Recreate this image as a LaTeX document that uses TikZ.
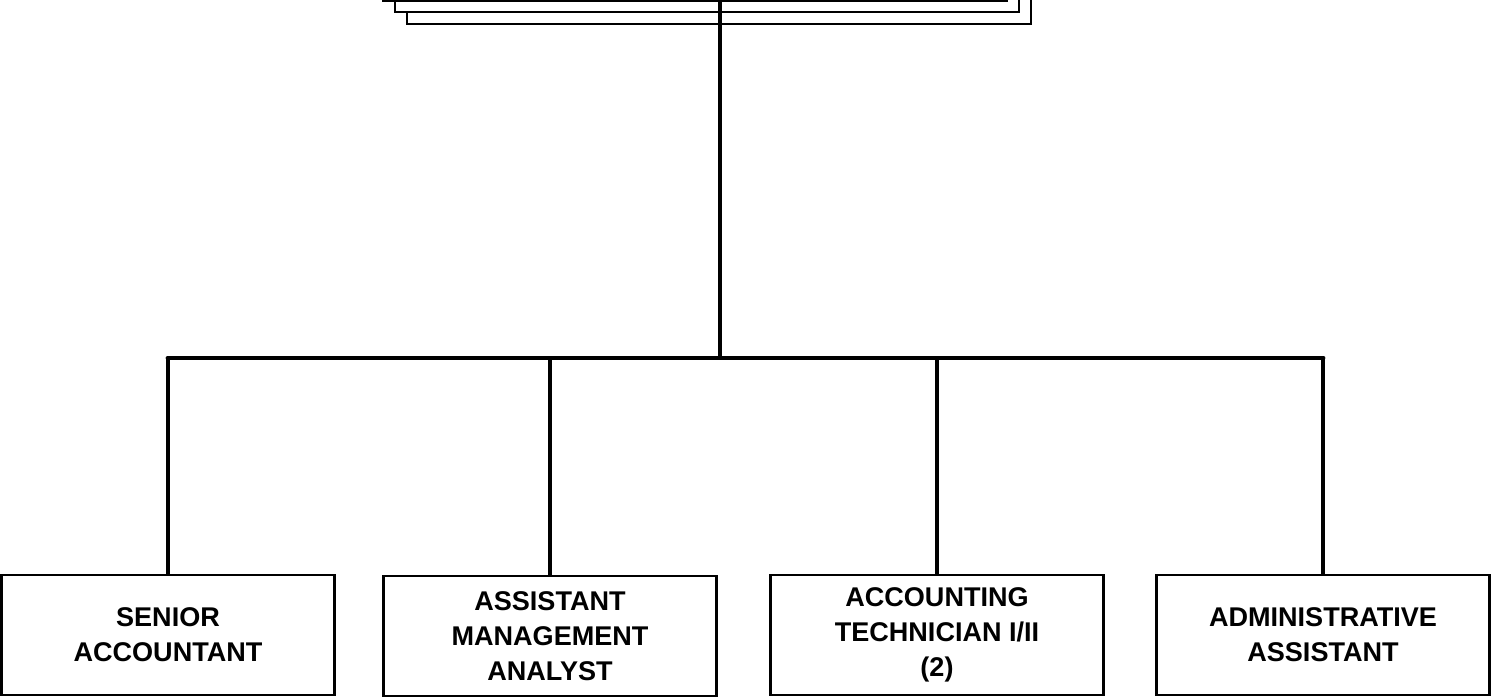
\documentclass[tikz,border=0pt]{standalone}
\usepackage{fontspec}
\setmainfont{Liberation Sans}
\usepackage{tikz}
\usetikzlibrary{positioning}

\tikzset{
  post/.style={draw, line width=1.2pt, fill=white, align=center,
    minimum width=6.66cm, minimum height=2.4cm, inner sep=0pt,
    font=\fontsize{15.4}{19.8}\selectfont\bfseries},
  head/.style={draw, line width=1.2pt, fill=white,
    minimum width=12.48cm, minimum height=1.6cm, inner sep=0pt},
  trunk/.style={line width=2.8pt}
}

\begin{document}
\begin{tikzpicture}[x=0.02cm, y=-0.02cm]

\clip (0, 0) rectangle (1493, 698);

% stacked heading boxes, cut off by the top edge
\node[head] (head3) at (719, -16) {};
\node[head] (head2) at (707, -28) {};
\node[head] (head1) at (695, -39) {};

% the four posts
\node[post] (sa)  at (168, 635) {SENIOR\\ACCOUNTANT};
\node[post] (ama) at (550, 636) {ASSISTANT\\MANAGEMENT\\ANALYST};
\node[post] (at)  at (937, 635) {ACCOUNTING\\TECHNICIAN I/II\\(2)};
\node[post] (aa)  at (1323, 635) {ADMINISTRATIVE\\ASSISTANT};

\coordinate (top) at (720, -5);
\coordinate (bar) at (720, 358);

\draw[trunk] (top) -- (bar);
\draw[trunk, line cap=round] (sa.north |- bar) -- (aa.north |- bar);
\foreach \p in {sa, ama, at, aa}
  \draw[trunk] (\p.north |- bar) -- (\p.north);

\end{tikzpicture}
\end{document}
